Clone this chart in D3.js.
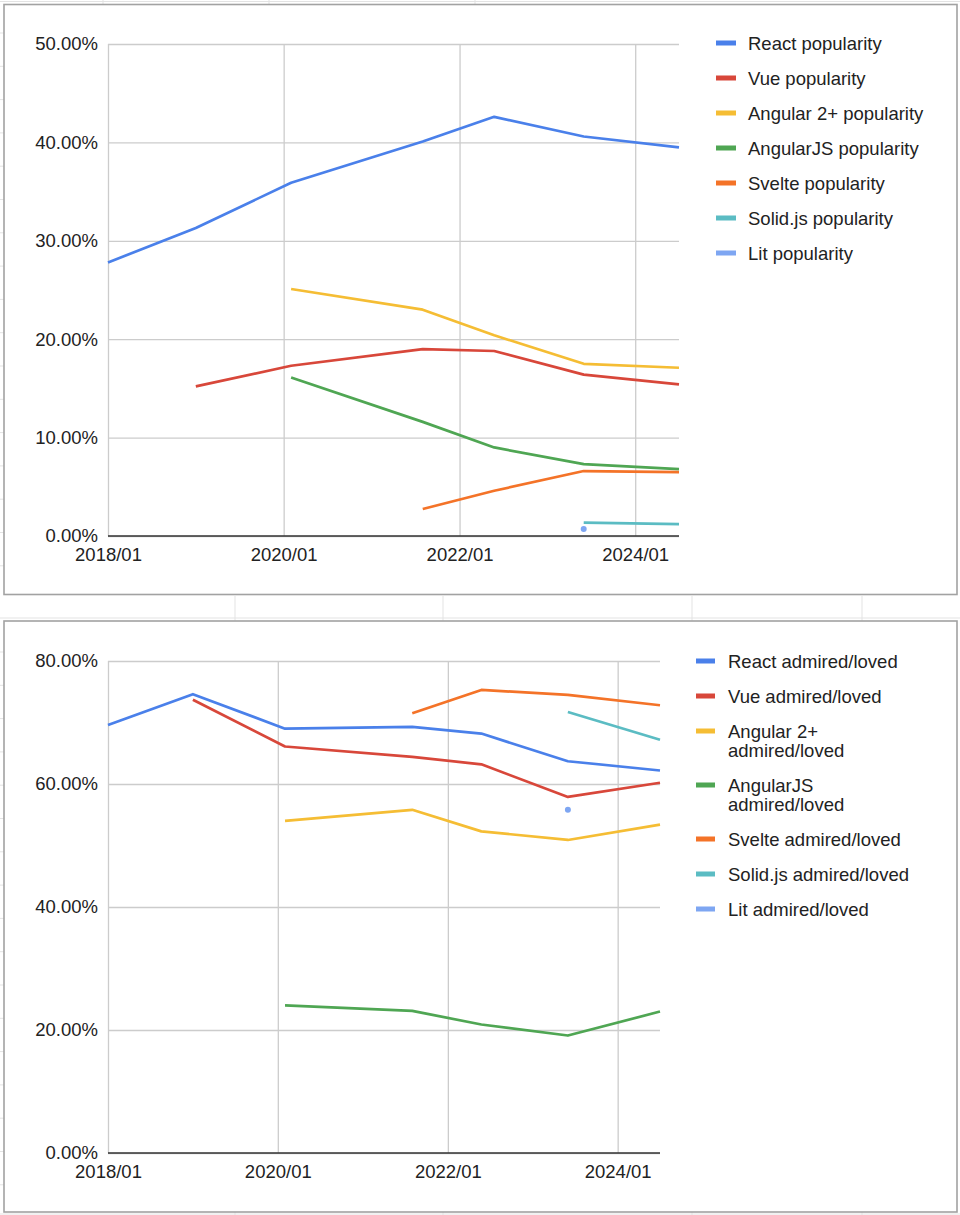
<!DOCTYPE html>
<html>
<head>
<meta charset="utf-8">
<script src="https://cdn.jsdelivr.net/npm/d3@7"></script>
<style>
  body { margin: 0; background: #fff; }
  svg { display: block; font-family: "Liberation Sans", Arial, sans-serif; }
</style>
</head>
<body>
<svg id="chart" width="960" height="1215"></svg>
<script>
// survey dates, one per yearly survey
const surveyDates = ["2018-01-01", "2019-01-01", "2020-02-01", "2021-08-01", "2022-05-25", "2023-06-01", "2024-07-01"];
const xDomain = ["2018-01-01", "2024-07-01"];
const xTicks = ["2018-01-01", "2020-01-01", "2022-01-01", "2024-01-01"];

const popularityTicks = [0, 10, 20, 30, 40, 50];
const admiredTicks = [0, 20, 40, 60, 80];

const frameworks = ["React", "Vue", "Angular 2+", "AngularJS", "Svelte", "Solid.js", "Lit"];
const colors = ["#4a80ea", "#d8473a", "#f5bd34", "#4fa653", "#f47328", "#5bbcc3", "#7ea6f2"];

// popularity (%)
const reactPopularity = [27.8, 31.3, 35.9, 40.1, 42.6, 40.6, 39.5];
const vuePopularity = [null, 15.2, 17.3, 19.0, 18.8, 16.4, 15.4];
const angularPopularity = [null, null, 25.1, 23.0, 20.4, 17.5, 17.1];
const angularJsPopularity = [null, null, 16.1, 11.6, 9.0, 7.3, 6.8];
const sveltePopularity = [null, null, null, 2.75, 4.6, 6.6, 6.5];
const solidPopularity = [null, null, null, null, null, 1.36, 1.2];
const litPopularity = [null, null, null, null, null, 0.7, null];

// admired / loved (%)
const reactAdmired = [69.6, 74.6, 69.0, 69.3, 68.2, 63.7, 62.2];
const vueAdmired = [null, 73.7, 66.1, 64.4, 63.2, 57.9, 60.2];
const angularAdmired = [null, null, 54.0, 55.8, 52.3, 50.9, 53.4];
const angularJsAdmired = [null, null, 24.0, 23.1, 20.9, 19.1, 23.0];
const svelteAdmired = [null, null, null, 71.5, 75.3, 74.5, 72.8];
const solidAdmired = [null, null, null, null, null, 71.7, 67.2];
const litAdmired = [null, null, null, null, null, 55.8, null];

const parseDate = d3.timeParse("%Y-%m-%d");
const svg = d3.select("#chart");
const fontSize = 18.5;
const lineHeight = 19;

// faint spreadsheet grid showing around the two chart boxes
const sheet = svg.append("g").attr("stroke", "#e3e3e3").attr("stroke-width", 1);
[1.5, 618, 1214].forEach(yy => sheet.append("line").attr("x1", 0).attr("x2", 960).attr("y1", yy).attr("y2", yy));
[103, 269, 475].forEach(xx => sheet.append("line").attr("x1", xx).attr("x2", xx).attr("y1", 0).attr("y2", 4));
[235, 443, 692, 862].forEach(xx => {
  sheet.append("line").attr("x1", xx).attr("x2", xx).attr("y1", 596).attr("y2", 621);
  sheet.append("line").attr("x1", xx).attr("x2", xx).attr("y1", 1212).attr("y2", 1215);
});
d3.range(33, 594, 33.3).concat(d3.range(652, 1210, 33.3)).forEach(yy =>
  sheet.append("line").attr("x1", 0).attr("x2", 4).attr("y1", yy).attr("y2", yy));

function drawChart(cfg) {
  const g = svg.append("g");
  const { left, right, top, bottom } = cfg.plot;

  g.append("rect")
    .attr("x", cfg.box.x).attr("y", cfg.box.y)
    .attr("width", cfg.box.w).attr("height", cfg.box.h)
    .attr("fill", "#fff").attr("stroke", "#a2a2a2").attr("stroke-width", 1.6);

  const x = d3.scaleTime()
    .domain(xDomain.map(parseDate))
    .range([left, right]);

  const y = d3.scaleLinear()
    .domain([0, d3.max(cfg.ticks)])
    .range([bottom, top]);

  const yAxis = g.append("g")
    .attr("transform", `translate(${left},0)`)
    .call(d3.axisLeft(y).tickValues(cfg.ticks).tickSize(-(right - left)).tickPadding(10)
      .tickFormat(d => d.toFixed(2) + "%"));

  const xAxis = g.append("g")
    .attr("transform", `translate(0,${bottom})`)
    .call(d3.axisBottom(x).tickValues(xTicks.map(parseDate)).tickSize(-(bottom - top)).tickPadding(12)
      .tickFormat(d3.timeFormat("%Y/%m")));

  [yAxis, xAxis].forEach(ax => {
    ax.select(".domain").remove();
    ax.selectAll(".tick line").attr("stroke", "#cccccc").attr("stroke-width", 1.3);
    ax.selectAll(".tick text")
      .attr("fill", "#222")
      .style("font-size", fontSize + "px")
      .style("font-family", "\"Liberation Sans\", Arial, sans-serif");
  });

  // dark zero baseline
  g.append("line")
    .attr("x1", left).attr("x2", right)
    .attr("y1", y(0)).attr("y2", y(0))
    .attr("stroke", "#333").attr("stroke-width", 1.6);

  const line = d3.line()
    .defined(d => d.v != null)
    .x(d => x(d.date))
    .y(d => y(d.v));

  cfg.series.forEach((values, i) => {
    const pts = values.map((v, j) => ({ date: parseDate(surveyDates[j]), v }));
    g.append("path")
      .datum(pts)
      .attr("fill", "none")
      .attr("stroke", colors[i])
      .attr("stroke-width", 2.7)
      .attr("stroke-linejoin", "round")
      .attr("d", line);

    // points without a neighbour get a dot
    const lonely = pts.filter((p, j) => p.v != null &&
      (j === 0 || pts[j - 1].v == null) && (j === pts.length - 1 || pts[j + 1].v == null));
    g.selectAll(null)
      .data(lonely)
      .enter()
      .append("circle")
      .attr("cx", d => x(d.date))
      .attr("cy", d => y(d.v))
      .attr("r", 3)
      .attr("fill", colors[i]);
  });

  // legend
  let rowY = cfg.legend.y;
  cfg.labels.forEach((label, i) => {
    g.append("rect")
      .attr("x", cfg.legend.x).attr("y", rowY - 2.5)
      .attr("width", cfg.legend.swatch).attr("height", 5)
      .attr("fill", colors[i]);

    const text = g.append("text")
      .attr("x", cfg.legend.textX)
      .attr("y", rowY + 6.6)
      .attr("fill", "#222")
      .style("font-size", fontSize + "px");

    // simple word wrap
    const words = label.split(" ");
    let lines = [words[0]];
    const probe = text.append("tspan");
    words.slice(1).forEach(w => {
      const tryLine = lines[lines.length - 1] + " " + w;
      probe.text(tryLine);
      if (probe.node().getComputedTextLength() > cfg.legend.maxWidth) lines.push(w);
      else lines[lines.length - 1] = tryLine;
    });
    probe.remove();
    lines.forEach((l, k) => {
      text.append("tspan")
        .attr("x", cfg.legend.textX)
        .attr("dy", k === 0 ? 0 : lineHeight)
        .text(l);
    });
    rowY += 35 + (lines.length - 1) * lineHeight;
  });
}

drawChart({
  box: { x: 4, y: 4.5, w: 953, h: 590 },
  plot: { left: 108, right: 679, top: 44, bottom: 536 },
  ticks: popularityTicks,
  series: [reactPopularity, vuePopularity, angularPopularity, angularJsPopularity,
           sveltePopularity, solidPopularity, litPopularity],
  labels: frameworks.map(f => f + " popularity"),
  legend: { x: 716, y: 43, swatch: 20, textX: 748, maxWidth: 200 }
});

drawChart({
  box: { x: 4, y: 621, w: 953, h: 591 },
  plot: { left: 108, right: 660, top: 661, bottom: 1153 },
  ticks: admiredTicks,
  series: [reactAdmired, vueAdmired, angularAdmired, angularJsAdmired,
           svelteAdmired, solidAdmired, litAdmired],
  labels: frameworks.map(f => f + " admired/loved"),
  legend: { x: 696, y: 661, swatch: 19, textX: 728, maxWidth: 195 }
});
</script>
</body>
</html>
